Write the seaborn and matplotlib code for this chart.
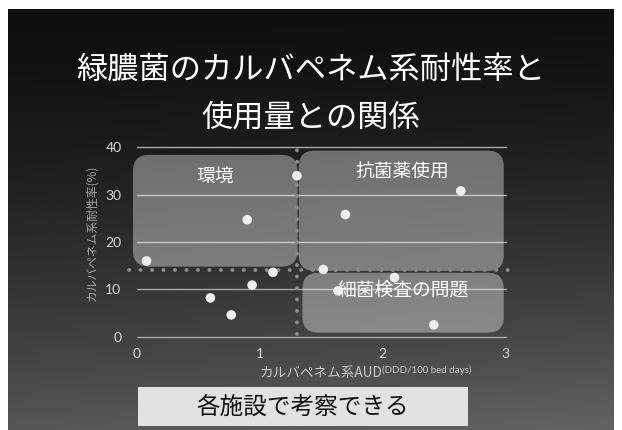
import numpy as np
import matplotlib
matplotlib.use("Agg")
import matplotlib.pyplot as plt
import seaborn as sns
from matplotlib.patches import FancyBboxPatch, Rectangle

# data
aud = [0.08, 0.60, 0.77, 0.90, 0.94, 1.11, 1.305, 1.52, 1.64, 1.70, 2.10, 2.42, 2.64]
resist = [16.0, 8.2, 4.6, 24.7, 10.9, 13.6, 34.0, 14.2, 9.7, 25.8, 12.5, 2.5, 30.8]

x_ticks = [0, 1, 2, 3]
x_tick_labels = ["0", "1", "2", "3"]
y_ticks = [0, 10, 20, 30, 40]

aud_cut = 1.305
resist_cut = 14.0

regions = ["環境", "抗菌薬使用", "細菌検査の問題"]
region_x = [(-0.03, 1.31), (1.32, 2.99), (1.35, 2.99)]
region_y = [(14.8, 38.4), (13.9, 39.3), (0.85, 13.5)]
region_label_pos = [(0.64, 33.9), (2.16, 34.8), (2.17, 9.9)]

title_lines = ["緑膿菌のカルバペネム系耐性率と", "使用量との関係"]
footer = "各施設で考察できる"

sns.set_style("white")
plt.rcParams["font.family"] = ["Noto Sans CJK JP", "DejaVu Sans"]

W, H = 622, 430
fig = plt.figure(figsize=(W / 100, H / 100), dpi=100)
fig.patch.set_facecolor("white")

# slide background: dark gradient inside a thin white border
bg = fig.add_axes([0, 0, 1, 1])
bg.set_xlim(0, W)
bg.set_ylim(H, 0)
bg.axis("off")
yy, xx = np.mgrid[0:H, 0:W]
t = yy / H
shade = 0.06 + 0.28 * t ** 1.6 + 0.05 * (xx / W) * t
img = np.dstack([shade, shade, shade])
bg.imshow(img, extent=(8, W - 8, H, 9), aspect="auto", zorder=0)

for i, line in enumerate(title_lines):
    fig.text(0.5, 1 - (70 + 48 * i) / H, line, ha="center", va="center",
             color="white", fontsize=22.5)

# footer box
fig.patches.append(Rectangle((138 / W, 1 - 426 / H), 330 / W, 39 / H,
                             transform=fig.transFigure, facecolor="#e2e2e2",
                             edgecolor="none", zorder=1))
fig.text(303 / W, 1 - 407 / H, footer, ha="center", va="center",
         color="#111111", fontsize=17, zorder=2)

# plot area
ax = fig.add_axes([136.7 / W, 1 - 336.7 / H, (505 - 136.7) / W, (336.7 - 147.3) / H])
ax.patch.set_alpha(0)
ax.set_xlim(0, 3.0)
ax.set_ylim(0, 40)

for yv in y_ticks:
    ax.plot([0, 3.01], [yv, yv], color="#a8a8a8", lw=1.0, zorder=1, clip_on=False)

# rounded, translucent region boxes (aspect-corrected corners)
px_x = ax.get_position().width * W / 3.0
px_y = ax.get_position().height * H / 40.0
for (x0, x1), (y0, y1) in zip(region_x, region_y):
    box = FancyBboxPatch((x0, y0), x1 - x0, y1 - y0,
                         boxstyle="round,pad=0,rounding_size=0.13",
                         mutation_aspect=px_x / px_y,
                         facecolor="white", alpha=0.37, edgecolor="none",
                         zorder=2, clip_on=False)
    ax.add_patch(box)

ax.plot([aud_cut, aud_cut], [0.6, 40.5], color="#8c8c8c", lw=2.8,
        linestyle=(0, (0.05, 2.9)), dash_capstyle="round", zorder=3, clip_on=False)
ax.plot([-0.06, 3.04], [resist_cut, resist_cut], color="#8c8c8c", lw=2.8,
        linestyle=(0, (0.05, 2.9)), dash_capstyle="round", zorder=3, clip_on=False)

sns.scatterplot(x=aud, y=resist, ax=ax, s=48, color="#eeeeee",
                edgecolor="none", zorder=4, clip_on=False)

for name, (lx, ly) in zip(regions, region_label_pos):
    ax.text(lx, ly, name, ha="center", va="center", color="white",
            fontsize=13.5, zorder=5)

sns.despine(ax=ax, left=True, bottom=True)
ax.set_xticks(x_ticks)
ax.set_xticklabels(x_tick_labels)
ax.set_yticks(y_ticks)
ax.tick_params(axis="both", length=0, colors="#d8d8d8", labelsize=10)
ax.tick_params(axis="x", pad=8)
ax.tick_params(axis="y", pad=11)
for lab in ax.get_xticklabels() + ax.get_yticklabels():
    lab.set_family(["Lato", "DejaVu Sans"])
ax.set_xlabel("")
ax.set_ylabel("")

fig.text(92 / W, 1 - 233 / H, "カルバペネム系耐性率(%)", rotation=90,
         ha="center", va="center", color="#a8a8a8", fontsize=8.5)
fig.text(382 / W, 1 - 373 / H, "カルバペネム系AUD", ha="right", va="center",
         color="#c8c8c8", fontsize=9.8)
fig.text(382 / W, 1 - 370 / H, "(DDD/100 bed days)", ha="left", va="center",
         color="#c8c8c8", fontsize=7, family=["Lato", "DejaVu Sans"])

fig.savefig("out.png", dpi=100, facecolor="white")
